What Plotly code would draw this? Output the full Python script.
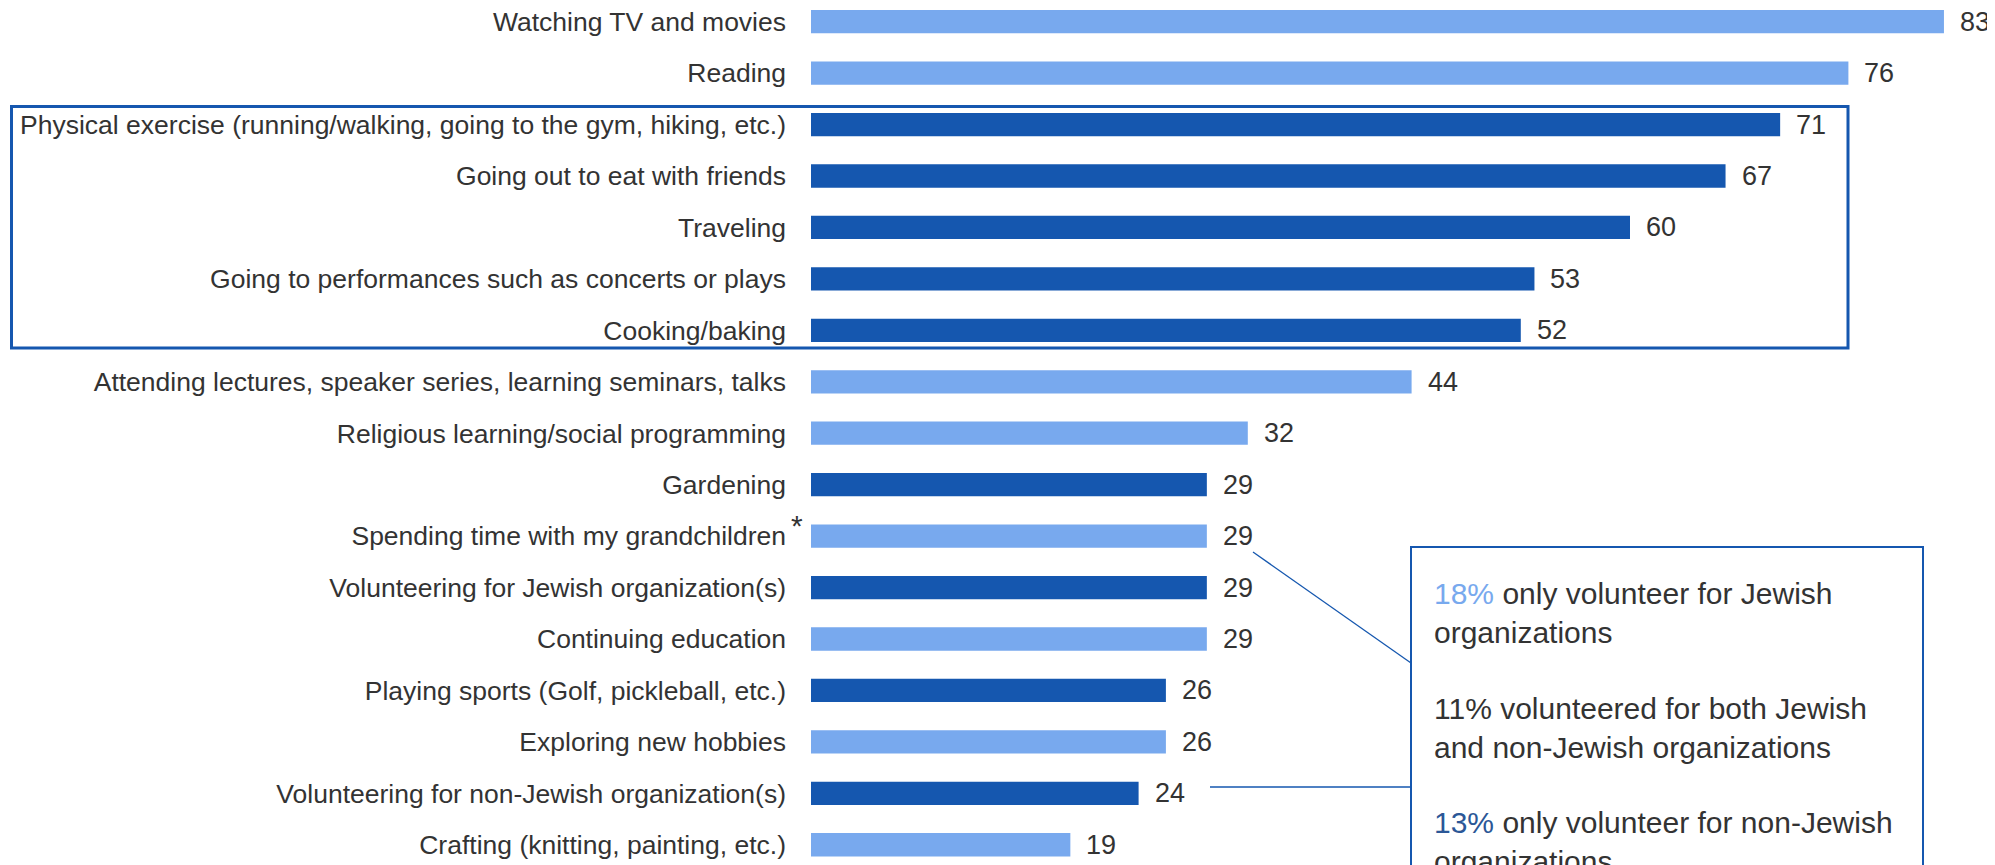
import plotly.graph_objects as go

# ---- data ----
categories = [
    "Watching TV and movies",
    "Reading",
    "Physical exercise (running/walking, going to the gym, hiking, etc.)",
    "Going out to eat with friends",
    "Traveling",
    "Going to performances such as concerts or plays",
    "Cooking/baking",
    "Attending lectures, speaker series, learning seminars, talks",
    "Religious learning/social programming",
    "Gardening",
    "Spending time with my grandchildren",
    "Volunteering for Jewish organization(s)",
    "Continuing education",
    "Playing sports (Golf, pickleball, etc.)",
    "Exploring new hobbies",
    "Volunteering for non-Jewish organization(s)",
    "Crafting (knitting, painting, etc.)",
]
values = [83, 76, 71, 67, 60, 53, 52, 44, 32, 29, 29, 29, 29, 26, 26, 24, 19]
dark_group = [False, False, True, True, True, True, True, False, False, True,
              False, True, False, True, False, True, False]

callout_pct = ["18%", "11%", "13%"]
callout_text = [
    "only volunteer for Jewish<br>organizations",
    "volunteered for both Jewish<br>and non-Jewish organizations",
    "only volunteer for non-Jewish<br>organizations",
]

# ---- styles ----
LIGHT = "#78A9EE"
DARK = "#1557AF"
NAVY = "#2B5797"
TEXT = "#333333"
FONT = "Liberation Sans, Arial, sans-serif"

OFF = 8  # page body margin
W, H = 1995 - OFF, 865 - OFF
L = 811 - OFF
PW = W - L
px_per_unit = 13.65
row0 = 21.7 - OFF
row_step = 51.44

def px(xp):  # page pixel -> paper x
    return (xp - OFF - L) / PW

def py(yp):  # page pixel -> paper y
    return 1 - (yp - OFF) / H

colors = [DARK if d else LIGHT for d in dark_group]

fig = go.Figure()
fig.add_trace(go.Bar(
    x=values, y=categories, orientation="h",
    marker=dict(color=colors, line=dict(width=0)),
    width=0.453,
    hoverinfo="x+y",
))

annotations = []
for c, v in zip(categories, values):
    annotations.append(dict(
        x=v, y=c, xref="x", yref="y", text=str(v), showarrow=False,
        xanchor="left", yanchor="middle", xshift=14,
        font=dict(family=FONT, size=27, color=TEXT),
    ))

# asterisk next to grandchildren label
annotations.append(dict(
    x=px(797), y=py(525), xref="paper", yref="paper", text="*",
    showarrow=False, xanchor="center", yanchor="middle",
    font=dict(family=FONT, size=30, color=TEXT),
))

# callout text
pct_colors = [LIGHT, TEXT, NAVY]
para_y = [612.5, 727.5, 842]
for pct, col, txt, yy in zip(callout_pct, pct_colors, callout_text, para_y):
    annotations.append(dict(
        x=px(1432), y=py(yy), xref="paper", yref="paper",
        text=f"<span style='color:{col}'>{pct}</span> {txt}",
        showarrow=False, xanchor="left", yanchor="middle", align="left",
        font=dict(family=FONT, size=30, color=TEXT),
    ))

shapes = [
    # highlight box
    dict(type="rect", xref="paper", yref="paper",
         x0=px(11.5), x1=px(1848), y0=py(348), y1=py(106.5),
         line=dict(color=DARK, width=3), fillcolor="rgba(0,0,0,0)", layer="above"),
    # callout box
    dict(type="rect", xref="paper", yref="paper",
         x0=px(1411), x1=px(1923), y0=py(900), y1=py(547),
         line=dict(color=DARK, width=2), fillcolor="white", layer="below"),
    # leader lines
    dict(type="line", xref="paper", yref="paper",
         x0=px(1253), y0=py(552), x1=px(1411), y1=py(663),
         line=dict(color=DARK, width=1.3)),
    dict(type="line", xref="paper", yref="paper",
         x0=px(1210), y0=py(787), x1=px(1411), y1=py(787),
         line=dict(color=DARK, width=1.3)),
]

fig.update_layout(
    width=W, height=H,
    margin=dict(l=L, r=0, t=0, b=0, pad=0),
    paper_bgcolor="white", plot_bgcolor="white",
    showlegend=False,
    font=dict(family=FONT, color=TEXT),
    xaxis=dict(range=[0, PW / px_per_unit], visible=False, fixedrange=True),
    yaxis=dict(
        type="category", categoryorder="array", categoryarray=categories,
        range=[(H - row0) / row_step, -row0 / row_step],
        showgrid=False, zeroline=False, showline=False, ticks="",
        ticklabelstandoff=24,
        tickfont=dict(family=FONT, size=26.5, color=TEXT),
        automargin=False, fixedrange=True,
    ),
    annotations=annotations,
    shapes=shapes,
)

fig.write_html("out.html")
